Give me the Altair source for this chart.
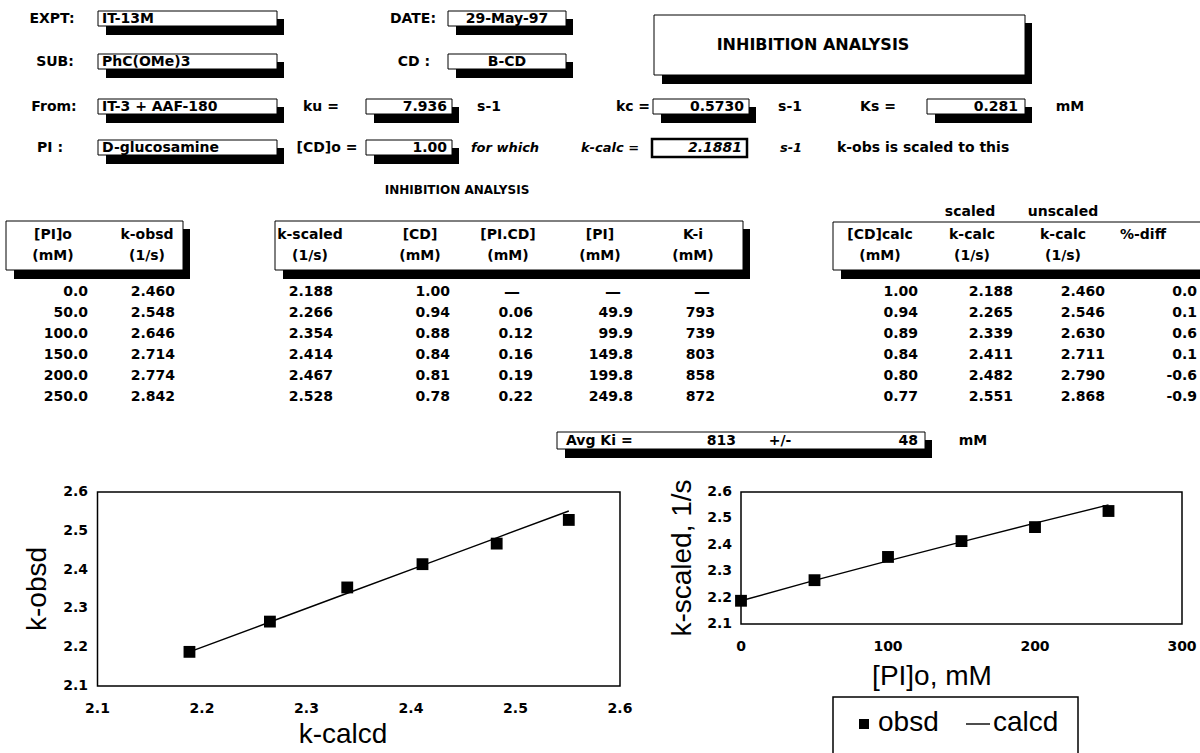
import altair as alt
import pandas as pd

FONT = "DejaVu Sans"
TITLE_FONT = "Liberation Sans"

# ---- experiment header ----
expt_id = "IT-13M"
run_date = "29-May-97"
substrate = "PhC(OMe)3"
cd_name = "B-CD"
source = "IT-3 + AAF-180"
inhibitor = "D-glucosamine"
k_u = 7.936
k_c = 0.5730
K_s = 0.281
cd_0 = 1.00
k_calc_0 = 2.1881

# ---- measured / derived table ----
pi_0 = [0.0, 50.0, 100.0, 150.0, 200.0, 250.0]
k_obsd = [2.460, 2.548, 2.646, 2.714, 2.774, 2.842]
k_scaled = [2.188, 2.266, 2.354, 2.414, 2.467, 2.528]
cd_free = [1.00, 0.94, 0.88, 0.84, 0.81, 0.78]
pi_cd = [None, 0.06, 0.12, 0.16, 0.19, 0.22]
pi_free = [None, 49.9, 99.9, 149.8, 199.8, 249.8]
k_i = [None, 793, 739, 803, 858, 872]
cd_calc = [1.00, 0.94, 0.89, 0.84, 0.80, 0.77]
k_calc_scaled = [2.188, 2.265, 2.339, 2.411, 2.482, 2.551]
k_calc_unscaled = [2.460, 2.546, 2.630, 2.711, 2.790, 2.868]
pct_diff = [0.0, 0.1, 0.6, 0.1, -0.6, -0.9]
avg_ki = 813
ki_sd = 48

# ---- axis ticks ----
k_ticks = [2.1, 2.2, 2.3, 2.4, 2.5, 2.6]
pi_ticks = [0, 100, 200, 300]

# ---- sheet layout (pixels) ----
R1, R2, R3, R4 = 19, 62, 107, 148
H0, H1, H2 = 212, 235, 256
ROW0, ROWH = 292, 21
AVG = 441
SH_X, SH_Y = 7, 9

PX = dict(scale=None, axis=None)


def texts(items, align="center", size=14, weight="bold", style="normal",
          font=FONT, angle=0):
    df = pd.DataFrame(items, columns=["text", "px", "py"])
    return alt.Chart(df).mark_text(
        align=align, baseline="middle", font=font, fontSize=size,
        fontWeight=weight, fontStyle=style, angle=angle, color="black"
    ).encode(x=alt.X("px:Q", **PX), y=alt.Y("py:Q", **PX), text="text:N")


def boxes(items, fill="white", stroke="black", sw=1.0):
    df = pd.DataFrame(items, columns=["x0", "x1", "y0", "y1"])
    return alt.Chart(df).mark_rect(
        fill=fill, stroke=stroke, strokeWidth=sw
    ).encode(x=alt.X("x0:Q", **PX), x2="x1:Q",
             y=alt.Y("y0:Q", **PX), y2="y1:Q")


def fmt(v, spec):
    return None if v is None else format(v, spec)


# framed cells of the sheet
cell_boxes = [
    (98, 277, R1 - 8, R1 + 7), (98, 277, R2 - 8, R2 + 7),
    (98, 277, R3 - 8, R3 + 7), (98, 277, R4 - 8, R4 + 7),
    (448, 566, R1 - 8, R1 + 7), (448, 566, R2 - 8, R2 + 7),
    (366, 452, R3 - 8, R3 + 7), (366, 452, R4 - 8, R4 + 7),
    (653, 749, R3 - 8, R3 + 7), (927, 1025, R3 - 8, R3 + 7),
    (654, 1025, 15, 75),
    (6, 183, 221, 270), (275, 743, 221, 270), (833, 1215, 222, 270),
    (557, 925, AVG - 9, AVG + 8),
]
shadow_boxes = [(a + 8, b + SH_X, c + 8, d + SH_Y) for a, b, c, d in cell_boxes]

centered = [
    ("EXPT:", 52, R1), ("SUB:", 55, R2), ("From:", 54, R3), ("PI :", 50, R4),
    ("DATE:", 413, R1), ("CD :", 414, R2), (run_date, 507, R1), (cd_name, 507, R2),
    ("ku =", 321, R3), ("s-1", 489, R3), ("[CD]o =", 327, R4),
    ("kc =", 633, R3), ("s-1", 790, R3), ("Ks =", 878, R3), ("mM", 1070, R3),
    ("[PI]o", 53, H1), ("(mM)", 53, H2), ("k-obsd", 147, H1), ("(1/s)", 147, H2),
    ("k-scaled", 310, H1), ("(1/s)", 310, H2), ("[CD]", 420, H1), ("(mM)", 420, H2),
    ("[PI.CD]", 508, H1), ("(mM)", 508, H2), ("[PI]", 600, H1), ("(mM)", 600, H2),
    ("K-i", 693, H1), ("(mM)", 693, H2),
    ("scaled", 970, H0), ("unscaled", 1063, H0),
    ("[CD]calc", 880, H1), ("(mM)", 880, H2), ("k-calc", 972, H1), ("(1/s)", 972, H2),
    ("k-calc", 1063, H1), ("(1/s)", 1063, H2), ("%-diff", 1143, H1),
    ("+/-", 780, AVG), ("mM", 973, AVG),
]
italic_centered = [("for which", 505, R4), ("k-calc =", 610, R4), ("s-1", 791, R4)]
left_texts = [
    (expt_id, 102, R1), (substrate, 102, R2), (source, 102, R3), (inhibitor, 102, R4),
    ("k-obs is scaled to this", 837, R4), ("Avg Ki =", 566, AVG),
]
right_texts = [
    (fmt(k_u, ".3f"), 447, R3), (fmt(cd_0, ".2f"), 447, R4),
    (fmt(k_c, ".4f"), 744, R3), (fmt(K_s, ".3f"), 1018, R3),
    (str(avg_ki), 736, AVG), (str(ki_sd), 918, AVG),
]

# table body: (values, format, right edge, dash centre)
columns = [
    (pi_0, ".1f", 88, None), (k_obsd, ".3f", 175, None),
    (k_scaled, ".3f", 333, None), (cd_free, ".2f", 450, None),
    (pi_cd, ".2f", 533, 512), (pi_free, ".1f", 633, 613), (k_i, "d", 715, 702),
    (cd_calc, ".2f", 918, None), (k_calc_scaled, ".3f", 1013, None),
    (k_calc_unscaled, ".3f", 1105, None), (pct_diff, ".1f", 1197, None),
]
dashes = []
for vals, spec, xr, xd in columns:
    for i, v in enumerate(vals):
        y = ROW0 + i * ROWH
        s = fmt(v, spec)
        if s is None:
            dashes.append(("\u2014", xd, y))
        else:
            right_texts.append((s, xr, y))

sheet = [
    boxes(shadow_boxes, fill="black", stroke="black", sw=0),
    boxes(cell_boxes),
    boxes([(652, 747, R4 - 9, R4 + 9)], sw=2.5),
    texts(centered),
    texts([("INHIBITION ANALYSIS", 813, 45)], size=16),
    texts([("INHIBITION ANALYSIS", 457, 190)], size=12),
    texts(italic_centered, style="italic", size=13),
    texts(left_texts, align="left"), texts(right_texts, align="right"),
    texts([(fmt(k_calc_0, ".4f"), 742, R4)], align="right", style="italic"),
    texts(dashes, size=16),
]

# ---- k-obsd vs k-calcd ----
lx = alt.Scale(domain=[2.1, 2.6], range=[97.5, 620], nice=False, zero=False)
ly = alt.Scale(domain=[2.1, 2.6], range=[686, 492], nice=False, zero=False)
fit_df = pd.DataFrame({"k_calc": k_calc_scaled, "k_obs": k_scaled, "pi": pi_0})
frame_df = pd.DataFrame({"a": [2.1], "b": [2.6]})
ktick_df = pd.DataFrame({"v": k_ticks, "label": [f"{t:.1f}" for t in k_ticks]})
TICK = dict(font=FONT, fontSize=14, fontWeight="bold", baseline="middle")

left = [
    alt.Chart(frame_df).mark_rect(fillOpacity=0, stroke="black", strokeWidth=1.5).encode(
        x=alt.X("a:Q", scale=lx, axis=None), x2="b:Q",
        y=alt.Y("a:Q", scale=ly, axis=None), y2="b:Q"),
    alt.Chart(fit_df).mark_line(color="black", strokeWidth=1.4).encode(
        x=alt.X("k_calc:Q", scale=lx, axis=None), y=alt.Y("k_calc:Q", scale=ly, axis=None)),
    alt.Chart(fit_df).mark_square(color="black", opacity=1, size=140).encode(
        x=alt.X("k_calc:Q", scale=lx, axis=None), y=alt.Y("k_obs:Q", scale=ly, axis=None)),
    alt.Chart(ktick_df).mark_text(**TICK).encode(
        x=alt.X("v:Q", scale=lx, axis=None), y=alt.value(709), text="label:N"),
    alt.Chart(ktick_df).mark_text(align="right", **TICK).encode(
        y=alt.Y("v:Q", scale=ly, axis=None), x=alt.value(88), text="label:N"),
]

# ---- k-scaled vs [PI]o ----
rx = alt.Scale(domain=[0, 300], range=[741, 1182], nice=False, zero=False)
ry = alt.Scale(domain=[2.1, 2.6], range=[624, 492], nice=False, zero=False)
rframe_df = pd.DataFrame({"a": [0], "b": [300], "c": [2.1], "d": [2.6]})
ptick_df = pd.DataFrame({"v": pi_ticks, "label": [str(t) for t in pi_ticks]})

right = [
    alt.Chart(rframe_df).mark_rect(fillOpacity=0, stroke="black", strokeWidth=1.5).encode(
        x=alt.X("a:Q", scale=rx, axis=None), x2="b:Q",
        y=alt.Y("c:Q", scale=ry, axis=None), y2="d:Q"),
    alt.Chart(fit_df).mark_line(color="black", strokeWidth=1.4).encode(
        x=alt.X("pi:Q", scale=rx, axis=None), y=alt.Y("k_calc:Q", scale=ry, axis=None)),
    alt.Chart(fit_df).mark_square(color="black", opacity=1, size=140).encode(
        x=alt.X("pi:Q", scale=rx, axis=None), y=alt.Y("k_obs:Q", scale=ry, axis=None)),
    alt.Chart(ptick_df).mark_text(**TICK).encode(
        x=alt.X("v:Q", scale=rx, axis=None), y=alt.value(647), text="label:N"),
    alt.Chart(ktick_df).mark_text(align="right", **TICK).encode(
        y=alt.Y("v:Q", scale=ry, axis=None), x=alt.value(732), text="label:N"),
]

# axis titles and legend
titles = [
    texts([("k-calcd", 343, 735), ("[PI]o, mM", 932, 677)], size=28, weight="normal",
          font=TITLE_FONT),
    texts([("k-obsd", 38, 589), ("k-scaled, 1/s", 683, 558)], size=28, weight="normal",
          font=TITLE_FONT, angle=270),
    boxes([(833, 1078, 697, 770)], fill="white", stroke="black", sw=1.5),
    alt.Chart(frame_df).mark_square(color="black", opacity=1, size=100).encode(
        x=alt.value(864), y=alt.value(724)),
    alt.Chart(frame_df).mark_rule(color="black", strokeWidth=1.4).encode(
        x=alt.value(966), x2=alt.value(990), y=alt.value(724)),
    texts([("obsd", 878, 723), ("calcd", 993, 723)], align="left", size=28,
          weight="normal", font=TITLE_FONT),
]

chart = alt.layer(*sheet, *left, *right, *titles).resolve_scale(
    x="independent", y="independent"
).properties(
    width=1200, height=753, padding=0,
    autosize=alt.AutoSizeParams(type="none"),
    background="white",
).configure_view(strokeWidth=0)

chart.save("out.html", embed_options={"renderer": "svg", "actions": False})
